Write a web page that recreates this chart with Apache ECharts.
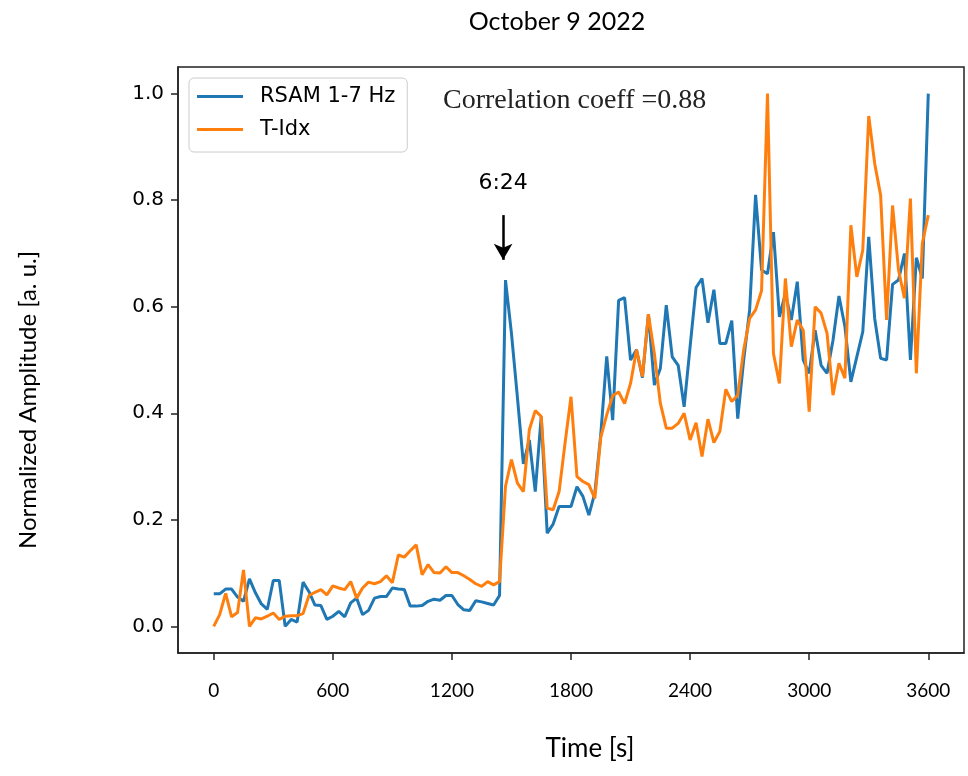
<!DOCTYPE html>
<html>
<head>
<meta charset="utf-8">
<script src="https://cdn.jsdelivr.net/npm/echarts@6/dist/echarts.min.js"></script>
<style>html,body{margin:0;padding:0;background:#fff;}#chart{width:968px;height:776px;}</style>
</head>
<body>
<div id="chart"></div>
<script>
// Sample times [s]
const timeSec = [0,30,60,90,120,150,180,210,240,270,300,330,360,390,420,450,480,510,540,570,
600,630,660,690,720,750,780,810,840,870,900,930,960,990,1020,1050,1080,1110,1140,1170,
1200,1230,1260,1290,1320,1350,1380,1410,1440,1470,1500,1530,1560,1590,1620,1650,1680,1710,1740,1770,
1800,1830,1860,1890,1920,1950,1980,2010,2040,2070,2100,2130,2160,2190,2220,2250,2280,2310,2340,2370,
2400,2430,2460,2490,2520,2550,2580,2610,2640,2670,2700,2730,2760,2790,2820,2850,2880,2910,2940,2970,
3000,3030,3060,3090,3120,3150,3180,3210,3240,3270,3300,3330,3360,3390,3420,3450,3480,3510,3540,3570,3600];

// RSAM 1-7 Hz (normalized)
const rsam = [0.061,0.061,0.070,0.070,0.055,0.047,0.089,0.063,0.042,0.032,
0.086,0.086,0.000,0.013,0.008,0.083,0.065,0.040,0.039,0.013,
0.019,0.028,0.018,0.044,0.053,0.022,0.030,0.053,0.056,0.056,
0.072,0.070,0.069,0.038,0.038,0.039,0.047,0.051,0.049,0.058,
0.058,0.041,0.031,0.030,0.048,0.046,0.043,0.040,0.058,0.650,
0.550,0.430,0.305,0.350,0.253,0.394,0.175,0.192,0.225,0.225,
0.225,0.262,0.244,0.209,0.250,0.360,0.507,0.387,0.612,0.617,
0.500,0.519,0.467,0.586,0.453,0.484,0.603,0.506,0.490,0.412,
0.525,0.636,0.653,0.570,0.632,0.531,0.531,0.574,0.390,0.500,
0.594,0.810,0.669,0.662,0.740,0.581,0.625,0.575,0.647,0.500,
0.475,0.556,0.490,0.475,0.537,0.620,0.563,0.459,0.506,0.553,
0.731,0.578,0.503,0.500,0.642,0.650,0.700,0.500,0.692,0.653,1.000];

// T-Idx (normalized)
const tIdx = [0.000,0.022,0.062,0.018,0.026,0.106,0.000,0.016,0.014,0.019,
0.025,0.013,0.019,0.020,0.020,0.024,0.058,0.064,0.069,0.059,
0.076,0.072,0.069,0.084,0.053,0.072,0.083,0.080,0.084,0.095,
0.082,0.134,0.130,0.142,0.153,0.097,0.116,0.101,0.100,0.112,
0.101,0.101,0.095,0.088,0.080,0.075,0.084,0.078,0.084,0.263,
0.313,0.269,0.253,0.369,0.405,0.394,0.222,0.219,0.253,0.344,
0.431,0.281,0.272,0.266,0.240,0.355,0.397,0.433,0.440,0.418,
0.456,0.519,0.469,0.586,0.512,0.419,0.372,0.372,0.381,0.400,
0.350,0.382,0.319,0.389,0.345,0.366,0.445,0.422,0.434,0.519,
0.578,0.594,0.630,1.000,0.512,0.456,0.653,0.525,0.575,0.556,
0.403,0.600,0.588,0.550,0.434,0.494,0.466,0.753,0.656,0.706,
0.958,0.869,0.809,0.575,0.790,0.669,0.616,0.803,0.475,0.719,0.772];

const xTicks = [0,600,1200,1800,2400,3000,3600];
const yTicks = [0,0.2,0.4,0.6,0.8,1.0];
const seriesNames = ['RSAM 1-7 Hz','T-Idx'];
const eventTime = 1458;      // arrow position (s)
const eventLabel = '6:24';
const corrText = 'Correlation coeff =0.88';
const titleText = 'October 9 2022';

const chart = echarts.init(document.getElementById('chart'), null, {renderer:'canvas'});
const axisColor = '#222';
const option = {
  animation:false,
  backgroundColor:'#fff',
  grid:{left:178,right:4,top:67,bottom:123,show:true,borderColor:axisColor,borderWidth:1.5,backgroundColor:'transparent'},
  legend:{
    orient:'vertical',left:189,top:78,
    icon:'rect',itemWidth:46,itemHeight:3,itemGap:12,
    padding:[8,12,12,8],
    backgroundColor:'#fff',borderColor:'#cccccc',borderWidth:1,borderRadius:5,
    textStyle:{fontFamily:'DejaVu Sans',fontSize:21,lineHeight:21,color:'#000',padding:[0,0,0,12]},
    data:seriesNames
  },
  xAxis:{
    type:'value',min:-180,max:3780,
    axisLine:{show:true,onZero:false,lineStyle:{color:axisColor,width:1.5}},
    axisTick:{show:true,length:7,customValues:xTicks,lineStyle:{color:axisColor,width:1.5}},
    axisLabel:{customValues:xTicks,fontFamily:'Lato',fontSize:19,color:'#000',margin:28,
      formatter:v=>String(v)},
    splitLine:{show:false},
    name:'Time [s]',nameLocation:'middle',nameGap:83,
    nameTextStyle:{fontFamily:'Lato',fontSize:26,color:'#000',padding:[0,0,0,38]}
  },
  yAxis:{
    type:'value',min:-0.05,max:1.05,
    axisLine:{show:true,onZero:false,lineStyle:{color:axisColor,width:1.5}},
    axisTick:{show:true,length:7,customValues:yTicks,lineStyle:{color:axisColor,width:1.5}},
    axisLabel:{customValues:yTicks,fontFamily:'DejaVu Sans',fontSize:20,color:'#000',margin:14,
      formatter:v=>v.toFixed(1)},
    splitLine:{show:false},
    name:'Normalized Amplitude [a. u.]',nameLocation:'middle',nameRotate:90,nameGap:138,
    nameTextStyle:{fontFamily:'Lato',fontSize:24,color:'#000',padding:[0,80,0,0]}
  },
  series:[
    {
      name:seriesNames[0],type:'line',symbol:'none',color:'#1f77b4',
      lineStyle:{width:3,color:'#1f77b4'},
      data:timeSec.map((t,i)=>[t,rsam[i]]),
      markLine:{
        silent:true,symbol:['none','arrow'],symbolSize:[14,16],
        lineStyle:{color:'#000',width:2.5,type:'solid'},
        label:{show:false},
        data:[[{coord:[eventTime,0.772]},{coord:[eventTime,0.688]}]]
      },
      markPoint:{
        silent:true,symbol:'circle',symbolSize:0,
        label:{show:true,position:'inside',formatter:eventLabel,fontFamily:'DejaVu Sans',fontSize:22,color:'#000'},
        data:[{coord:[eventTime,0.832]}]
      },
      z:2
    },
    {
      name:seriesNames[1],type:'line',symbol:'none',color:'#ff7f0e',
      lineStyle:{width:3,color:'#ff7f0e'},
      data:timeSec.map((t,i)=>[t,tIdx[i]]),
      z:3
    }
  ],
  graphic:[
    {type:'text',left:443,top:87,style:{text:corrText,font:'28px "Liberation Serif"',fill:'#222'}},
    {type:'text',x:557,y:22,style:{text:titleText,font:'25px Lato',fill:'#000',align:'center',verticalAlign:'middle'}}
  ]
};
chart.setOption(option);
</script>
</body>
</html>
